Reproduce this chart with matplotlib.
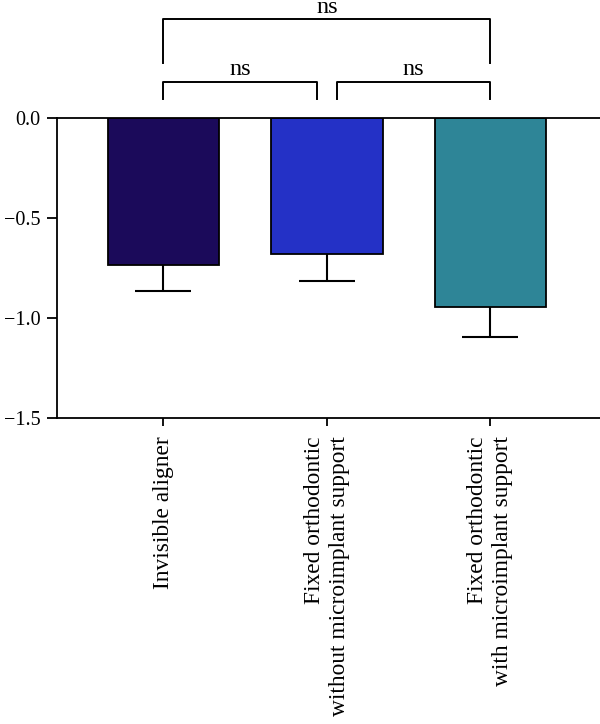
#########################################################
#
#  Bar chart with brackets (ns)
#
#########################################################

import numpy as np
from matplotlib import pyplot as plt

#########################################################
### Data:

groups = ['Invisible aligner',
          'Fixed orthodontic\nwithout microimplant support',
          'Fixed orthodontic\nwith microimplant support']
means = [-0.733, -0.682, -0.947]
errs = [0.132, 0.135, 0.147]
colours = ['#1b0a5a', '#2431c6', '#2e8597']
y_ticks = [0.0, -0.5, -1.0, -1.5]

# pairs compared and their label
comparisons = [(0, 1, 'ns'), (1, 2, 'ns'), (0, 2, 'ns')]

#########################################################
### Plot:

plt.rcParams['font.family'] = ['Liberation Serif', 'DejaVu Serif']

fig = plt.figure(figsize=(6, 7.24), dpi=100)
ax = fig.add_axes([0.095, 0.4227, 0.905, 0.4144])

x = np.arange(len(groups))
ax.bar(x, means, width=0.68, color=colours, edgecolor='black',
       linewidth=1.3, zorder=2)

low = np.array(errs)
high = np.zeros(len(errs))
eb = ax.errorbar(x, means, yerr=[low, high], fmt='none', ecolor='black',
                 elinewidth=1.5, capsize=20, capthick=1.5, zorder=3)
# only the lower cap is wanted
eb[1][1].set_visible(False)

ax.set_xlim(-0.651, 2.67)
ax.set_ylim(-1.5, 0.0)
ax.set_yticks(y_ticks)
ax.set_xticks(x)
ax.set_xticklabels(groups, rotation=90, ha='center', va='top',
                   multialignment='right', fontsize=16.8, linespacing=1.25)

ax.spines['right'].set_visible(False)
for s in ['left', 'bottom', 'top']:
    ax.spines[s].set_linewidth(1.3)

ax.tick_params(axis='y', direction='out', length=7, width=1.3,
               labelsize=14.5, pad=5)
ax.tick_params(axis='x', direction='out', length=6, width=1.3, pad=7)

#########################################################
### Brackets:

for a, b, lab in comparisons:
    if b - a == 1:
        ga = 0.0 if a == 0 else 0.061
        gb = 0.061 if b == 1 else 0.0
        xa = a + ga
        xb = b - gb
        ax.plot([xa, xa, xb, xb], [0.095, 0.1815, 0.1815, 0.095],
                color='black', linewidth=1.4, clip_on=False)
        ax.text((xa + xb) / 2, 0.215, lab, ha='center', va='baseline',
                fontsize=17.5)
    else:
        ax.plot([a, a, b, b], [0.275, 0.495, 0.495, 0.275],
                color='black', linewidth=1.4, clip_on=False)
        ax.text((a + b) / 2, 0.525, lab, ha='center', va='baseline',
                fontsize=17.5)

fig.savefig('out.png', dpi=100)
